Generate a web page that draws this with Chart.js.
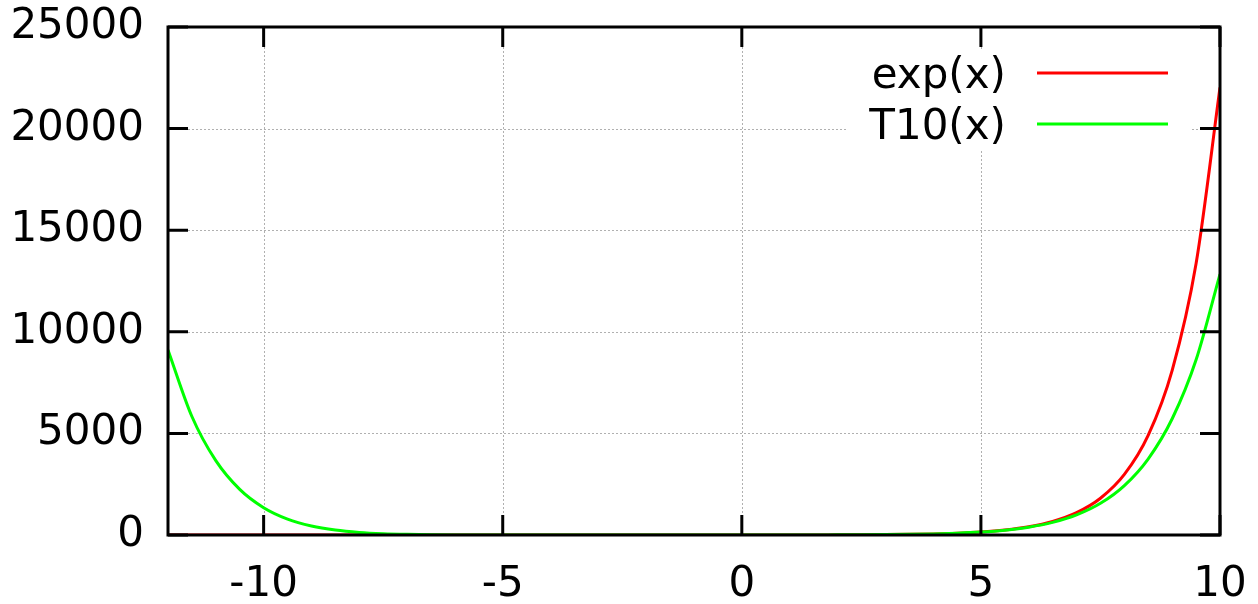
<!DOCTYPE html>
<html lang="en">
<head>
    <meta charset="UTF-8">
    <title>exp(x) vs T10(x)</title>
    <script src="https://cdn.jsdelivr.net/npm/chart.js"></script>
    <style>
        html, body { margin: 0; padding: 0; background: #fff; }
        .container { width: 1258px; height: 604px; position: relative; }
    </style>
</head>
<body>
    <div class="container">
        <canvas id="taylorChart"></canvas>
    </div>

    <script>
        // values
        const xValues = [-12, -11.5, -11, -10.5, -10, -9.5, -9, -8.5, -8, -7.5, -7, -6.5, -6, -5.5, -5, -4.5, -4, -3.5, -3, -2.5, -2, -1.5, -1, -0.5,
                         0, 0.5, 1, 1.5, 2, 2.5, 3, 3.5, 4, 4.5, 5, 5.5, 6, 6.5, 7, 7.5, 8, 8.5, 9, 9.5, 10];
        const expValues = [0, 0, 0, 0, 0, 0, 0, 0, 0, 0.001, 0.001, 0.002, 0.002, 0.004, 0.007, 0.011, 0.018, 0.03, 0.05, 0.08, 0.14, 0.22, 0.37, 0.61,
                           1, 1.65, 2.72, 4.48, 7.39, 12.2, 20.1, 33.1, 54.6, 90, 148, 245, 403, 665, 1097, 1808, 2981, 4915, 8103, 13360, 22026];
        const t10Values = [9109, 5831, 3657, 2243, 1343, 782, 442, 242, 127, 64, 31, 14, 6, 2.4, 0.86, 0.29, 0.1, 0.04, 0.05, 0.08, 0.14, 0.22, 0.37, 0.61,
                           1, 1.65, 2.72, 4.48, 7.39, 12.2, 20.1, 33.1, 54.6, 89.4, 146, 238, 386, 621, 989, 1559, 2432, 3752, 5721, 8621, 12842];
        const xTicks = [-10, -5, 0, 5, 10];
        const yTicks = [0, 5000, 10000, 15000, 20000, 25000];
        const seriesNames = ['exp(x)', 'T10(x)'];
        const seriesColors = ['#ff0000', '#00ff00'];

        const FONT = { family: 'DejaVu Sans', size: 42 };

        function toPoints(ys) {
            return xValues.map((x, i) => ({ x: x, y: ys[i] }));
        }

        // gnuplot look: dotted grid, thick frame, inward ticks on all sides, key top right
        const gnuplotFrame = {
            id: 'gnuplotFrame',
            beforeDatasetsDraw(chart) {
                const { ctx, chartArea: a, scales } = chart;
                ctx.save();
                ctx.strokeStyle = '#b0b0b0';
                ctx.lineWidth = 1;
                ctx.setLineDash([2, 2]);
                xTicks.forEach(v => {
                    const px = Math.round(scales.x.getPixelForValue(v)) + 0.5;
                    if (px <= a.left + 2 || px >= a.right - 2) return;
                    ctx.beginPath();
                    ctx.moveTo(px, a.top);
                    ctx.lineTo(px, a.bottom);
                    ctx.stroke();
                });
                yTicks.forEach(v => {
                    const py = Math.round(scales.y.getPixelForValue(v)) + 0.5;
                    if (py <= a.top + 2 || py >= a.bottom - 2) return;
                    ctx.beginPath();
                    ctx.moveTo(a.left, py);
                    ctx.lineTo(a.right, py);
                    ctx.stroke();
                });
                ctx.restore();
            },
            afterDatasetsDraw(chart) {
                const { ctx, chartArea: a, scales } = chart;
                ctx.save();

                // key
                ctx.fillStyle = '#fff';
                ctx.fillRect(a.right - 372, a.top + 22, 344, 100);
                ctx.font = FONT.size + 'px "' + FONT.family + '"';
                ctx.textAlign = 'right';
                ctx.textBaseline = 'alphabetic';
                seriesNames.forEach((name, i) => {
                    const ly = a.top + 46 + i * 51;
                    ctx.fillStyle = '#000';
                    ctx.fillText(name, a.right - 214, ly + 15);
                    ctx.strokeStyle = seriesColors[i];
                    ctx.lineWidth = 3;
                    ctx.beginPath();
                    ctx.moveTo(a.right - 183, ly);
                    ctx.lineTo(a.right - 52, ly);
                    ctx.stroke();
                });

                // frame
                ctx.strokeStyle = '#000';
                ctx.lineWidth = 3;
                ctx.strokeRect(a.left, a.top, a.right - a.left, a.bottom - a.top);

                // inward tick marks
                const tl = 20;
                ctx.beginPath();
                xTicks.forEach(v => {
                    const px = scales.x.getPixelForValue(v);
                    ctx.moveTo(px, a.bottom);
                    ctx.lineTo(px, a.bottom - tl);
                    ctx.moveTo(px, a.top);
                    ctx.lineTo(px, a.top + tl);
                });
                yTicks.forEach(v => {
                    const py = scales.y.getPixelForValue(v);
                    ctx.moveTo(a.left, py);
                    ctx.lineTo(a.left + tl, py);
                    ctx.moveTo(a.right, py);
                    ctx.lineTo(a.right - tl, py);
                });
                ctx.stroke();
                ctx.restore();
            }
        };

        const ctx = document.getElementById('taylorChart').getContext('2d');
        const chart = new Chart(ctx, {
            type: 'line',
            data: {
                datasets: [{
                    label: seriesNames[0],
                    data: toPoints(expValues),
                    borderColor: seriesColors[0],
                    borderWidth: 3,
                    pointRadius: 0,
                    cubicInterpolationMode: 'monotone',
                    order: 1
                }, {
                    label: seriesNames[1],
                    data: toPoints(t10Values),
                    borderColor: seriesColors[1],
                    borderWidth: 3,
                    pointRadius: 0,
                    cubicInterpolationMode: 'monotone',
                    order: 0
                }]
            },
            options: {
                responsive: true,
                maintainAspectRatio: false,
                animation: false,
                events: [],
                layout: {
                    padding: { top: 27, right: 38, bottom: 0, left: 0 }
                },
                plugins: {
                    legend: { display: false },
                    tooltip: { enabled: false }
                },
                scales: {
                    x: {
                        type: 'linear',
                        min: -12,
                        max: 10,
                        afterBuildTicks: s => { s.ticks = xTicks.map(v => ({ value: v })); },
                        afterFit: s => { s.height = 69; s.paddingLeft = 0; s.paddingRight = 0; },
                        grid: { display: false, drawTicks: false },
                        border: { display: false },
                        ticks: { color: '#000', font: FONT, padding: 25, maxRotation: 0, autoSkip: false,
                                 callback: v => String(v) }
                    },
                    y: {
                        min: 0,
                        max: 25000,
                        afterBuildTicks: s => { s.ticks = yTicks.map(v => ({ value: v })); },
                        afterFit: s => { s.width = 168; s.paddingTop = 0; s.paddingBottom = 0; },
                        grid: { display: false, drawTicks: false },
                        border: { display: false },
                        ticks: { color: '#000', font: FONT, padding: 24, autoSkip: false,
                                 callback: v => String(v) }
                    }
                }
            },
            plugins: [gnuplotFrame]
        });
    </script>
</body>
</html>
